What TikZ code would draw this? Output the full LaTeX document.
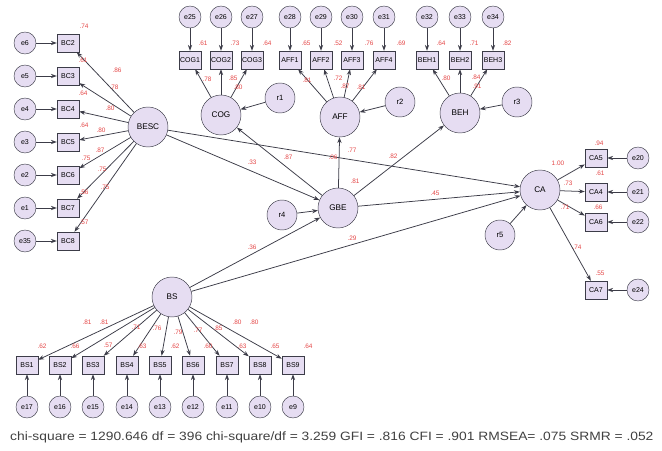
\documentclass[tikz,border=0pt]{standalone}
\usepackage{fontspec}
\setmainfont{Liberation Sans}
\usepackage{xcolor}
\usetikzlibrary{arrows.meta}
\definecolor{latfill}{RGB}{230,221,242}
\definecolor{coefred}{RGB}{228,72,72}
\definecolor{linegray}{RGB}{60,60,72}
\tikzset{>={Stealth[length=5pt,width=3.6pt]}}

\begin{document}
\begin{tikzpicture}[x=0.03cm,y=-0.03cm,
    lat/.style={circle,draw=linegray,fill=latfill,minimum size=1.2cm,inner sep=0pt,font=\fontsize{7}{8}\selectfont},
    res/.style={circle,draw=linegray,fill=latfill,minimum size=0.9cm,inner sep=0pt,font=\fontsize{6.5}{7}\selectfont},
    err/.style={circle,draw=linegray,fill=latfill,minimum size=0.66cm,inner sep=0pt,font=\fontsize{6}{7}\selectfont},
    obs/.style={rectangle,draw=linegray,fill=latfill,minimum width=0.66cm,minimum height=0.54cm,inner sep=0pt,font=\fontsize{6}{7}\selectfont},
    coef/.style={text=coefred,inner sep=0pt,font=\fontsize{5.5}{6}\selectfont},
    link/.style={->,line width=0.65pt,draw=linegray}]

    \useasboundingbox (0,0) rectangle (662,451);

    % latent factors
    \node[lat] at (148,127) (BESC) {BESC};
    \node[lat] at (221,115) (COG) {COG};
    \node[lat] at (340,117) (AFF) {AFF};
    \node[lat] at (460,113) (BEH) {BEH};
    \node[lat] at (338,208) (GBE) {GBE};
    \node[lat] at (540,190) (CA) {CA};
    \node[lat] at (172,297) (BS) {BS};
    \node[res] at (280,98) (r1) {r1};
    \node[res] at (400,102) (r2) {r2};
    \node[res] at (517,102) (r3) {r3};
    \node[res] at (282,215) (r4) {r4};
    \node[res] at (500,235) (r5) {r5};

    % BESC items
    \node[obs] at (68,43) (BC2) {BC2};
    \node[obs] at (68,76) (BC3) {BC3};
    \node[obs] at (68,109) (BC4) {BC4};
    \node[obs] at (68,142) (BC5) {BC5};
    \node[obs] at (68,175) (BC6) {BC6};
    \node[obs] at (68,208) (BC7) {BC7};
    \node[obs] at (68,241) (BC8) {BC8};
    \node[err] at (25,43) (e6) {e6};
    \node[err] at (25,76) (e5) {e5};
    \node[err] at (25,109) (e4) {e4};
    \node[err] at (25,142) (e3) {e3};
    \node[err] at (25,175) (e2) {e2};
    \node[err] at (25,208) (e1) {e1};
    \node[err] at (25,241) (e35) {e35};

    % COG, AFF, BEH items
    \node[obs] at (190,60) (COG1) {COG1};
    \node[obs] at (221,60) (COG2) {COG2};
    \node[obs] at (252,60) (COG3) {COG3};
    \node[obs] at (290,60) (AFF1) {AFF1};
    \node[obs] at (321,60) (AFF2) {AFF2};
    \node[obs] at (352,60) (AFF3) {AFF3};
    \node[obs] at (384,60) (AFF4) {AFF4};
    \node[obs] at (427,60) (BEH1) {BEH1};
    \node[obs] at (460,60) (BEH2) {BEH2};
    \node[obs] at (493,60) (BEH3) {BEH3};
    \node[err] at (190,17) (e25) {e25};
    \node[err] at (221,17) (e26) {e26};
    \node[err] at (252,17) (e27) {e27};
    \node[err] at (290,17) (e28) {e28};
    \node[err] at (321,17) (e29) {e29};
    \node[err] at (352,17) (e30) {e30};
    \node[err] at (384,17) (e31) {e31};
    \node[err] at (427,17) (e32) {e32};
    \node[err] at (460,17) (e33) {e33};
    \node[err] at (493,17) (e34) {e34};

    % CA items
    \node[obs] at (596,158) (CA5) {CA5};
    \node[obs] at (596,192) (CA4) {CA4};
    \node[obs] at (596,222) (CA6) {CA6};
    \node[obs] at (596,290) (CA7) {CA7};
    \node[err] at (638,158) (e20) {e20};
    \node[err] at (638,192) (e21) {e21};
    \node[err] at (638,222) (e22) {e22};
    \node[err] at (638,290) (e24) {e24};

    % BS items
    \node[obs] at (27,365) (BS1) {BS1};
    \node[obs] at (60,365) (BS2) {BS2};
    \node[obs] at (93,365) (BS3) {BS3};
    \node[obs] at (127,365) (BS4) {BS4};
    \node[obs] at (160,365) (BS5) {BS5};
    \node[obs] at (193,365) (BS6) {BS6};
    \node[obs] at (227,365) (BS7) {BS7};
    \node[obs] at (260,365) (BS8) {BS8};
    \node[obs] at (293,365) (BS9) {BS9};
    \node[err] at (27,407) (e17) {e17};
    \node[err] at (60,407) (e16) {e16};
    \node[err] at (93,407) (e15) {e15};
    \node[err] at (127,407) (e14) {e14};
    \node[err] at (160,407) (e13) {e13};
    \node[err] at (193,407) (e12) {e12};
    \node[err] at (227,407) (e11) {e11};
    \node[err] at (260,407) (e10) {e10};
    \node[err] at (293,407) (e9) {e9};

    % structural paths
    \draw[link] (BESC) -- (GBE);
    \draw[link] (BESC) -- (CA);
    \draw[link] (GBE) -- (COG);
    \draw[link] (GBE) -- (AFF);
    \draw[link] (GBE) -- (BEH);
    \draw[link] (GBE) -- (CA);
    \draw[link] (BS) -- (GBE);
    \draw[link] (BS) -- (CA);
    \draw[link] (r1) -- (COG);
    \draw[link] (r2) -- (AFF);
    \draw[link] (r3) -- (BEH);
    \draw[link] (r4) -- (GBE);
    \draw[link] (r5) -- (CA);

    % loadings and errors
    \draw[link] (BESC) -- (BC2);  \draw[link] (e6) -- (BC2);
    \draw[link] (BESC) -- (BC3);  \draw[link] (e5) -- (BC3);
    \draw[link] (BESC) -- (BC4);  \draw[link] (e4) -- (BC4);
    \draw[link] (BESC) -- (BC5);  \draw[link] (e3) -- (BC5);
    \draw[link] (BESC) -- (BC6);  \draw[link] (e2) -- (BC6);
    \draw[link] (BESC) -- (BC7);  \draw[link] (e1) -- (BC7);
    \draw[link] (BESC) -- (BC8);  \draw[link] (e35) -- (BC8);
    \draw[link] (COG) -- (COG1);  \draw[link] (e25) -- (COG1);
    \draw[link] (COG) -- (COG2);  \draw[link] (e26) -- (COG2);
    \draw[link] (COG) -- (COG3);  \draw[link] (e27) -- (COG3);
    \draw[link] (AFF) -- (AFF1);  \draw[link] (e28) -- (AFF1);
    \draw[link] (AFF) -- (AFF2);  \draw[link] (e29) -- (AFF2);
    \draw[link] (AFF) -- (AFF3);  \draw[link] (e30) -- (AFF3);
    \draw[link] (AFF) -- (AFF4);  \draw[link] (e31) -- (AFF4);
    \draw[link] (BEH) -- (BEH1);  \draw[link] (e32) -- (BEH1);
    \draw[link] (BEH) -- (BEH2);  \draw[link] (e33) -- (BEH2);
    \draw[link] (BEH) -- (BEH3);  \draw[link] (e34) -- (BEH3);
    \draw[link] (CA) -- (CA5);  \draw[link] (e20) -- (CA5);
    \draw[link] (CA) -- (CA4);  \draw[link] (e21) -- (CA4);
    \draw[link] (CA) -- (CA6);  \draw[link] (e22) -- (CA6);
    \draw[link] (CA) -- (CA7);  \draw[link] (e24) -- (CA7);
    \draw[link] (BS) -- (BS1);  \draw[link] (e17) -- (BS1);
    \draw[link] (BS) -- (BS2);  \draw[link] (e16) -- (BS2);
    \draw[link] (BS) -- (BS3);  \draw[link] (e15) -- (BS3);
    \draw[link] (BS) -- (BS4);  \draw[link] (e14) -- (BS4);
    \draw[link] (BS) -- (BS5);  \draw[link] (e13) -- (BS5);
    \draw[link] (BS) -- (BS6);  \draw[link] (e12) -- (BS6);
    \draw[link] (BS) -- (BS7);  \draw[link] (e11) -- (BS7);
    \draw[link] (BS) -- (BS8);  \draw[link] (e10) -- (BS8);
    \draw[link] (BS) -- (BS9);  \draw[link] (e9) -- (BS9);

    % estimates
    \node[coef] at (84,26) (q1) {.74};
    \node[coef] at (83,60) (q2) {.61};
    \node[coef] at (83,93) (q3) {.64};
    \node[coef] at (84,125) (q4) {.64};
    \node[coef] at (86,158) (q5) {.75};
    \node[coef] at (84,192) (q6) {.56};
    \node[coef] at (84,222) (q7) {.57};
    \node[coef] at (117,70) (l1) {.86};
    \node[coef] at (114,87) (l2) {.78};
    \node[coef] at (110,108) (l3) {.80};
    \node[coef] at (101,130) (l4) {.80};
    \node[coef] at (100,150) (l5) {.87};
    \node[coef] at (102,169) (l6) {.75};
    \node[coef] at (105,187) (l7) {.75};

    \node[coef] at (203,43) (q8) {.61};
    \node[coef] at (235,43) (q9) {.73};
    \node[coef] at (267,43) (q10) {.64};
    \node[coef] at (306,43) (q11) {.65};
    \node[coef] at (338,43) (q12) {.52};
    \node[coef] at (369,43) (q13) {.76};
    \node[coef] at (401,43) (q14) {.69};
    \node[coef] at (441,43) (q15) {.64};
    \node[coef] at (474,43) (q16) {.71};
    \node[coef] at (507,43) (q17) {.82};
    \node[coef] at (207,79) (l8) {.78};
    \node[coef] at (233,78) (l9) {.85};
    \node[coef] at (238,87) (l10) {.80};
    \node[coef] at (307,80) (l11) {.81};
    \node[coef] at (338,78) (l12) {.72};
    \node[coef] at (345,86) (l13) {.87};
    \node[coef] at (361,87) (l14) {.81};
    \node[coef] at (446,78) (l15) {.80};
    \node[coef] at (476,77) (l16) {.84};
    \node[coef] at (477,86) (l17) {.91};

    \node[coef] at (252,162) (s1) {.33};
    \node[coef] at (288,157) (s2) {.87};
    \node[coef] at (333,157) (s3) {.06};
    \node[coef] at (352,150) (s4) {.77};
    \node[coef] at (355,181) (s5) {.81};
    \node[coef] at (393,156) (s6) {.82};
    \node[coef] at (435,193) (s7) {.45};
    \node[coef] at (252,247) (s8) {.36};
    \node[coef] at (352,238) (s9) {.29};

    \node[coef] at (599,143) (q18) {.94};
    \node[coef] at (600,173) (q19) {.61};
    \node[coef] at (598,207) (q20) {.66};
    \node[coef] at (600,273) (q21) {.55};
    \node[coef] at (558,163) (l18) {1.00};
    \node[coef] at (568,183) (l19) {.73};
    \node[coef] at (565,207) (l20) {.71};
    \node[coef] at (577,247) (l21) {.74};

    \node[coef] at (42,346) (q22) {.62};
    \node[coef] at (75,346) (q23) {.66};
    \node[coef] at (108,345) (q24) {.57};
    \node[coef] at (142,346) (q25) {.63};
    \node[coef] at (175,346) (q26) {.62};
    \node[coef] at (208,346) (q27) {.60};
    \node[coef] at (242,346) (q28) {.63};
    \node[coef] at (275,346) (q29) {.65};
    \node[coef] at (308,346) (q30) {.64};
    \node[coef] at (87,322) (l22) {.81};
    \node[coef] at (104,322) (l23) {.81};
    \node[coef] at (136,327) (l24) {.71};
    \node[coef] at (157,328) (l25) {.76};
    \node[coef] at (178,332) (l26) {.79};
    \node[coef] at (198,330) (l27) {.77};
    \node[coef] at (218,328) (l28) {.85};
    \node[coef] at (237,322) (l29) {.80};
    \node[coef] at (254,322) (l30) {.80};

    \node[anchor=west,inner sep=0pt,text=black!75,font=\fontsize{10.3}{12}\selectfont] at (10,437) (fit)
      {\scalebox{1.145}[1]{chi-square = 1290.646 df = 396 chi-square/df = 3.259 GFI = .816 CFI = .901 RMSEA= .075 SRMR = .052}};
\end{tikzpicture}
\end{document}
